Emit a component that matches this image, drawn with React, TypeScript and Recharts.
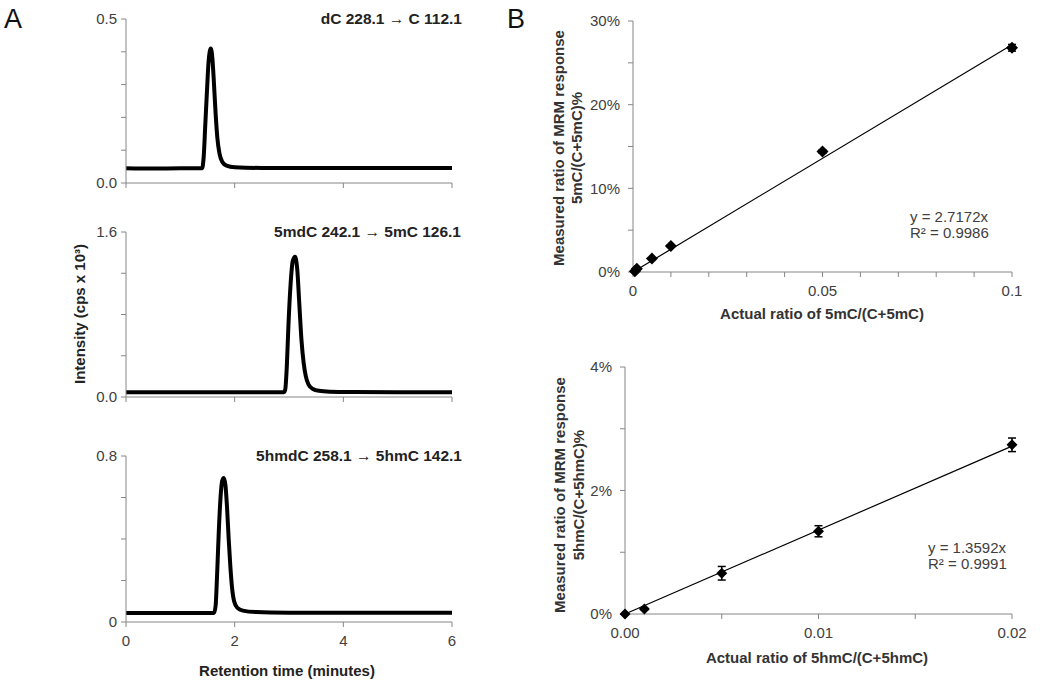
import React from "react";
import {
  LineChart,
  Line,
  XAxis,
  YAxis,
  ScatterChart,
  Scatter,
  ErrorBar,
  ReferenceLine,
} from "recharts";

const FONT = '"Liberation Sans", Arial, sans-serif';
const AXIS = "#868686";
const TICK_TEXT = "#404040";

// chromatogram traces: [time (min), intensity (cps x 10^3)]
const dcTrace = [
  [0, 0.045], [0.5, 0.044], [1.0, 0.045], [1.4, 0.045], [1.43, 0.08], [1.46, 0.18],
  [1.49, 0.28], [1.52, 0.37], [1.56, 0.41], [1.59, 0.38], [1.62, 0.3], [1.65, 0.21],
  [1.68, 0.14], [1.72, 0.09], [1.77, 0.065], [1.85, 0.053], [2.0, 0.048], [2.5, 0.046],
  [3.5, 0.046], [4.5, 0.046], [6, 0.046],
];
const mdcTrace = [
  [0, 0.046], [1.0, 0.046], [2.0, 0.046], [2.9, 0.046], [2.93, 0.07], [2.96, 0.3],
  [2.99, 0.7], [3.03, 1.1], [3.07, 1.32], [3.11, 1.36], [3.15, 1.25], [3.19, 0.9],
  [3.23, 0.55], [3.27, 0.33], [3.31, 0.2], [3.36, 0.12], [3.44, 0.078], [3.55, 0.06],
  [3.75, 0.052], [4.2, 0.048], [5, 0.046], [6, 0.046],
];
const hmdcTrace = [
  [0, 0.043], [0.8, 0.043], [1.62, 0.043], [1.65, 0.08], [1.68, 0.25], [1.71, 0.45],
  [1.74, 0.6], [1.77, 0.68], [1.8, 0.694], [1.83, 0.66], [1.86, 0.55], [1.89, 0.4],
  [1.92, 0.27], [1.95, 0.17], [1.99, 0.1], [2.05, 0.068], [2.15, 0.055], [2.4, 0.048],
  [3, 0.045], [4, 0.044], [5, 0.044], [6, 0.044],
];

const timeTicks = [0, 2, 4, 6];
const dcTicks = [0, 0.1, 0.2, 0.3, 0.4, 0.5];
const mdcTicks = [0, 0.4, 0.8, 1.2, 1.6];
const hmdcTicks = [0, 0.2, 0.4, 0.6, 0.8];
const dcTickLabels: Record<number, string> = { 0: "0.0", 0.5: "0.5" };
const mdcTickLabels: Record<number, string> = { 0: "0.0", 1.6: "1.6" };
const hmdcTickLabels: Record<number, string> = { 0: "0", 0.8: "0.8" };

// calibration points: actual ratio, measured ratio, error
const mcPoints = [
  { x: 0.0005, y: 0.001, err: 0 },
  { x: 0.001, y: 0.004, err: 0 },
  { x: 0.005, y: 0.016, err: 0.001 },
  { x: 0.01, y: 0.031, err: 0.001 },
  { x: 0.05, y: 0.144, err: 0.002 },
  { x: 0.1, y: 0.268, err: 0.004 },
];
const mcFit = [{ x: 0, y: 0 }, { x: 0.1, y: 0.27172 }];
const mcXTicks = [0, 0.01, 0.02, 0.03, 0.04, 0.05, 0.06, 0.07, 0.08, 0.09, 0.1];
const mcXLabels: Record<number, string> = { 0: "0", 0.05: "0.05", 0.1: "0.1" };
const mcYTicks = [0, 0.05, 0.1, 0.15, 0.2, 0.25, 0.3];
const mcYLabels: Record<number, string> = { 0: "0%", 0.1: "10%", 0.2: "20%", 0.3: "30%" };

const hmcPoints = [
  { x: 0, y: 0, err: 0 },
  { x: 0.001, y: 0.0008, err: 0.0001 },
  { x: 0.005, y: 0.0066, err: 0.0011 },
  { x: 0.01, y: 0.0134, err: 0.0009 },
  { x: 0.02, y: 0.0274, err: 0.0011 },
];
const hmcFit = [{ x: 0, y: 0 }, { x: 0.02, y: 0.027184 }];
const hmcXTicks = [0, 0.005, 0.01, 0.015, 0.02];
const hmcXLabels: Record<number, string> = { 0: "0.00", 0.01: "0.01", 0.02: "0.02" };
const hmcYTicks = [0, 0.01, 0.02, 0.03, 0.04];
const hmcYLabels: Record<number, string> = { 0: "0%", 0.02: "2%", 0.04: "4%" };

const tickStyle = { fontSize: 15, fill: TICK_TEXT, fontFamily: FONT };

function Txt({ x, y, anchor = "middle", rotate = false, style, children }: any) {
  const tx = anchor === "end" ? "-100%" : anchor === "start" ? "0" : "-50%";
  return (
    <div
      style={{
        position: "absolute",
        left: x,
        top: y,
        whiteSpace: "nowrap",
        textAlign: "center",
        transform: rotate ? "translate(-50%,-50%) rotate(-90deg)" : `translate(${tx},-50%)`,
        fontFamily: FONT,
        ...style,
      }}
    >
      {children}
    </div>
  );
}

function Chromatogram({ trace, top, height, marginTop, xHeight, yMax, yTicks, yLabels, showX }: any) {
  const data = trace.map(([t, v]: number[]) => ({ t, v }));
  return (
    <div style={{ position: "absolute", left: 0, top, width: 480, height }}>
      <LineChart width={480} height={height} data={data} margin={{ top: marginTop, right: 28, left: 0, bottom: 0 }}>
        <XAxis
          type="number"
          dataKey="t"
          domain={[0, 6]}
          ticks={timeTicks}
          height={xHeight}
          stroke={AXIS}
          tickSize={5}
          tickMargin={8}
          tick={tickStyle}
          tickFormatter={(v: number) => (showX ? String(v) : "")}
        />
        <YAxis
          type="number"
          domain={[0, yMax]}
          ticks={yTicks}
          width={126}
          stroke={AXIS}
          tickSize={5}
          tickMargin={4}
          tick={tickStyle}
          tickFormatter={(v: number) => yLabels[v] ?? ""}
        />
        <Line
          type="monotone"
          dataKey="v"
          stroke="#000"
          strokeWidth={4}
          strokeLinejoin="round"
          dot={false}
          isAnimationActive={false}
        />
      </LineChart>
    </div>
  );
}

function Calibration({ points, fit, left, top, width, height, marginTop, yWidth, xHeight, xDomain, xTicks, xLabels, yDomain, yTicks, yLabels, half }: any) {
  const diamond = (p: any) => (
    <polygon
      points={`${p.cx},${p.cy - half} ${p.cx + half},${p.cy} ${p.cx},${p.cy + half} ${p.cx - half},${p.cy}`}
      fill="#000"
    />
  );
  return (
    <div style={{ position: "absolute", left, top, width, height }}>
      <ScatterChart width={width} height={height} margin={{ top: marginTop, right: 38, left: 0, bottom: 0 }}>
        <XAxis
          type="number"
          dataKey="x"
          domain={xDomain}
          ticks={xTicks}
          height={xHeight}
          stroke={AXIS}
          tickSize={5}
          tickMargin={8}
          tick={tickStyle}
          tickFormatter={(v: number) => xLabels[v] ?? ""}
        />
        <YAxis
          type="number"
          dataKey="y"
          domain={yDomain}
          ticks={yTicks}
          width={yWidth}
          stroke={AXIS}
          tickSize={5}
          tickMargin={8}
          tick={tickStyle}
          tickFormatter={(v: number) => yLabels[v] ?? ""}
        />
        <ReferenceLine segment={fit} stroke="#000" strokeWidth={1.2} ifOverflow="visible" />
        <Scatter data={points} shape={diamond} isAnimationActive={false}>
          <ErrorBar dataKey="err" direction="y" width={4} stroke="#000" strokeWidth={1.5} />
        </Scatter>
      </ScatterChart>
    </div>
  );
}

const boldLabel = { fontWeight: 700, fontSize: 15, color: "#222" };
const titleStyle = { fontWeight: 700, fontSize: 15.5, color: "#222" };
const eqStyle = { fontSize: 15, color: "#404040", lineHeight: "16px", textAlign: "left" as const };

export default function App() {
  return (
    <div style={{ position: "absolute", left: 0, top: 0, width: 1050, height: 690, background: "#fff", overflow: "hidden" }}>
      <Chromatogram trace={dcTrace} top={0} height={210} marginTop={19} xHeight={27} yMax={0.5} yTicks={dcTicks} yLabels={dcTickLabels} showX={false} />
      <Chromatogram trace={mdcTrace} top={210} height={210} marginTop={22} xHeight={23} yMax={1.6} yTicks={mdcTicks} yLabels={mdcTickLabels} showX={false} />
      <Chromatogram trace={hmdcTrace} top={420} height={270} marginTop={36} xHeight={68} yMax={0.8} yTicks={hmdcTicks} yLabels={hmdcTickLabels} showX={true} />

      <Calibration
        points={mcPoints} fit={mcFit} left={520} top={0} width={530} height={340}
        marginTop={21} yWidth={113} xHeight={68}
        xDomain={[0, 0.1]} xTicks={mcXTicks} xLabels={mcXLabels}
        yDomain={[0, 0.3]} yTicks={mcYTicks} yLabels={mcYLabels} half={6}
      />
      <Calibration
        points={hmcPoints} fit={hmcFit} left={520} top={340} width={530} height={350}
        marginTop={27} yWidth={105} xHeight={76}
        xDomain={[0, 0.02]} xTicks={hmcXTicks} xLabels={hmcXLabels}
        yDomain={[0, 0.04]} yTicks={hmcYTicks} yLabels={hmcYLabels} half={5.5}
      />

      <Txt x={4} y={19} anchor="start" style={{ fontSize: 27, color: "#111" }}>A</Txt>
      <Txt x={507} y={19} anchor="start" style={{ fontSize: 27, color: "#111" }}>B</Txt>

      <Txt x={462} y={19} anchor="end" style={titleStyle}>dC 228.1 → C 112.1</Txt>
      <Txt x={461} y={232} anchor="end" style={titleStyle}>5mdC 242.1 → 5mC 126.1</Txt>
      <Txt x={462} y={456} anchor="end" style={titleStyle}>5hmdC 258.1 → 5hmC 142.1</Txt>
      <Txt x={79} y={314} rotate style={boldLabel}>Intensity (cps x 10³)</Txt>
      <Txt x={287} y={670} style={boldLabel}>Retention time (minutes)</Txt>

      <Txt x={568} y={148} rotate style={{ ...boldLabel, color: "#333", lineHeight: "18px" }}>
        Measured ratio of MRM response<br />5mC/(C+5mC)%
      </Txt>
      <Txt x={822} y={313} style={{ ...boldLabel, color: "#333" }}>Actual ratio of 5mC/(C+5mC)</Txt>
      <Txt x={910} y={225} anchor="start" style={eqStyle}>y = 2.7172x<br />R² = 0.9986</Txt>

      <Txt x={569} y={495} rotate style={{ ...boldLabel, color: "#333", lineHeight: "19px" }}>
        Measured ratio of MRM response<br />5hmC/(C+5hmC)%
      </Txt>
      <Txt x={817} y={657} style={{ ...boldLabel, color: "#333" }}>Actual ratio of 5hmC/(C+5hmC)</Txt>
      <Txt x={928} y={556} anchor="start" style={eqStyle}>y = 1.3592x<br />R² = 0.9991</Txt>
    </div>
  );
}
